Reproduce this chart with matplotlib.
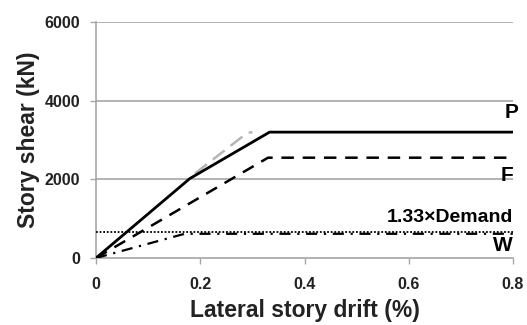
import matplotlib
matplotlib.use("Agg")
import matplotlib.pyplot as plt
from matplotlib import font_manager

# Story shear vs. lateral drift (pushover envelopes)
drift_p = [0.0, 0.18, 0.333, 0.8]
shear_p = [0, 2020, 3200, 3200]

drift_f = [0.0, 0.33, 0.8]
shear_f = [0, 2550, 2550]

drift_ref = [0.19, 0.29, 0.30]
shear_ref = [2150, 3180, 3200]

drift_w = [0.0, 0.17, 0.8]
shear_w = [0, 615, 615]

demand_133 = 660

x_ticks = [0, 0.2, 0.4, 0.6, 0.8]
x_ticklabels = ["0", "0.2", "0.4", "0.6", "0.8"]
y_ticks = [0, 2000, 4000, 6000]
y_ticklabels = ["0", "2000", "4000", "6000"]

names = {f.name for f in font_manager.fontManager.ttflist}
narrow = "Liberation Sans Narrow" if "Liberation Sans Narrow" in names else "Liberation Sans"
plt.rcParams["font.family"] = [narrow, "DejaVu Sans"]

fig = plt.figure(figsize=(5.27, 3.25), dpi=100)
ax = fig.add_axes([0.1822, 0.2062, 0.7912, 0.7261])

grid_c = "#a6a6a6"
for y in y_ticks[1:]:
    ax.axhline(y, color=grid_c, lw=1.2, zorder=1)

ax.plot(drift_ref, shear_ref, color="#b5b5b5", lw=1.8, dashes=(6, 3), zorder=2)
ax.plot(drift_w, shear_w, color="black", lw=1.6, dashes=(5, 3, 1, 3), zorder=3)
ax.axhline(demand_133, color="black", lw=1.3, ls=(0, (1, 1)), zorder=3)
ax.plot(drift_f, shear_f, color="black", lw=1.8, dashes=(5, 3.5), zorder=4)
ax.plot(drift_p, shear_p, color="black", lw=2.0, zorder=5)

ax.set_xlim(0, 0.8)
ax.set_ylim(0, 6000)
ax.set_xticks(x_ticks)
ax.set_xticklabels(x_ticklabels)
ax.set_yticks(y_ticks)
ax.set_yticklabels(y_ticklabels)

for s in ["top", "right"]:
    ax.spines[s].set_visible(False)
for s in ["left", "bottom"]:
    ax.spines[s].set_color(grid_c)
    ax.spines[s].set_linewidth(1.2)

ax.tick_params(axis="both", colors=grid_c, length=4, width=1.0, labelcolor="#222222",
               labelsize=11.5)
ax.tick_params(axis="x", pad=10)
ax.tick_params(axis="y", pad=7.5)
for lbl in ax.get_xticklabels() + ax.get_yticklabels():
    lbl.set_fontweight("bold")

ax.set_xlabel("Lateral story drift (%)", fontsize=16.5, fontweight="bold", color="#222222",
              labelpad=5)
ax.set_ylabel("Story shear (kN)", fontsize=16.5, fontweight="bold", color="#222222",
              labelpad=3.5)

ax.text(0.81, 3700, "P", fontsize=15, fontweight="bold", ha="right", va="center",
        clip_on=False)
ax.text(0.8, 2085, "F", fontsize=15, fontweight="bold", ha="right", va="center")
ax.text(0.8, 1040, "1.33×Demand", fontsize=14, fontweight="bold", ha="right", va="center")
ax.text(0.8, 305, "W", fontsize=15, fontweight="bold", ha="right", va="center")

fig.savefig("out.png", dpi=100)
